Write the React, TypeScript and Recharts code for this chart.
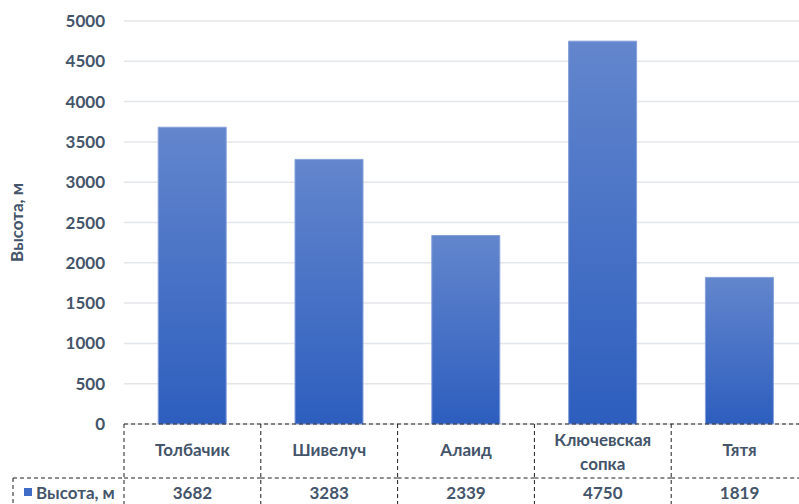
import React from 'react';
import { BarChart, Bar, XAxis, YAxis, CartesianGrid } from 'recharts';

const categories = ['Толбачик', 'Шивелуч', 'Алаид', 'Ключевская сопка', 'Тятя'];
const heights = [3682, 3283, 2339, 4750, 1819];
const yTicks = [0, 500, 1000, 1500, 2000, 2500, 3000, 3500, 4000, 4500, 5000];
const seriesName = 'Высота, м';
const axisTitle = 'Высота, м';

const data = categories.map((name, i) => ({ name, value: heights[i] }));

const CHART_W = 808;
const CHART_H = 504;
const Y_AXIS_W = 124;
const BAND = (CHART_W - Y_AXIS_W) / categories.length;
const TEXT = '#44546A';
const FONT = 'Lato, "Open Sans", sans-serif';
const FS = 17;
const DASH = '4 3';
const LINE = '#1f1f1f';

const splitLabel = (s: string): string[] => (s.length > 12 ? s.split(' ') : [s]);

const TableTick = (props: any) => {
  const { x, y, payload } = props;
  const idx = payload.index;
  const top = y;
  const left = x - BAND / 2;
  const right = x + BAND / 2;
  const rowY = top + 54;
  const bottom = top + 100;
  const lines = splitLabel(String(payload.value));
  const textProps = {
    fill: TEXT,
    fontSize: FS,
    fontWeight: 700,
    fontFamily: FONT,
    textAnchor: 'middle' as const,
    dominantBaseline: 'central' as const,
  };
  return (
    <g>
      <line x1={left} y1={top} x2={left} y2={bottom} stroke={LINE} strokeDasharray={DASH} />
      {idx === categories.length - 1 && (
        <line x1={right} y1={top} x2={right} y2={bottom} stroke={LINE} strokeDasharray={DASH} />
      )}
      <line x1={left} y1={rowY} x2={right} y2={rowY} stroke={LINE} strokeDasharray={DASH} />
      {lines.length === 1 ? (
        <text x={x} y={top + 25} {...textProps}>{lines[0]}</text>
      ) : (
        lines.map((l, i) => (
          <text key={i} x={x} y={top + 15 + i * 24} {...textProps}>{l}</text>
        ))
      )}
      <text x={x} y={top + 68} {...textProps}>{heights[idx]}</text>
      {idx === 0 && (
        <g>
          <line x1={13} y1={rowY} x2={left} y2={rowY} stroke={LINE} strokeDasharray={DASH} />
          <line x1={13} y1={rowY} x2={13} y2={bottom} stroke={LINE} strokeDasharray={DASH} />
          <rect x={24} y={top + 64} width={8} height={8} fill="#3F6CC6" />
          <text
            x={36}
            y={top + 68}
            fill={TEXT}
            fontSize={FS}
            fontWeight={700}
            fontFamily={FONT}
            dominantBaseline="central"
          >
            {seriesName}
          </text>
        </g>
      )}
    </g>
  );
};

const AxisTitle = (props: any) => {
  const vb = props.viewBox || { x: 0, y: 0, width: 0, height: 0 };
  const cx = vb.x + 16;
  const cy = vb.y + vb.height / 2;
  return (
    <text
      x={cx}
      y={cy}
      transform={`rotate(-90, ${cx}, ${cy})`}
      fill={TEXT}
      fontSize={FS}
      fontWeight={700}
      fontFamily={FONT}
      textAnchor="middle"
      dominantBaseline="central"
    >
      {axisTitle}
    </text>
  );
};

export default function App() {
  return (
    <div
      style={{
        position: 'absolute',
        left: 0,
        top: 0,
        width: 799,
        height: 504,
        overflow: 'hidden',
        background: '#fff',
      }}
    >
      <BarChart
        width={CHART_W}
        height={CHART_H}
        data={data}
        margin={{ top: 21, right: 0, bottom: 0, left: 0 }}
        barCategoryGap="25%"
      >
        <defs>
          <linearGradient id="barGrad" x1="0" y1="0" x2="0" y2="1">
            <stop offset="0%" stopColor="#6386CD" />
            <stop offset="100%" stopColor="#2D5EBE" />
          </linearGradient>
        </defs>
        <CartesianGrid vertical={false} stroke="#E3E6EA" strokeWidth={1.5} />
        <YAxis
          width={Y_AXIS_W}
          domain={[0, 5000]}
          ticks={yTicks}
          interval={0}
          axisLine={false}
          tickLine={false}
          tickSize={0}
          tickMargin={19}
          tick={{ fill: TEXT, fontSize: FS, fontWeight: 700, fontFamily: FONT }}
          label={{ content: AxisTitle }}
        />
        <XAxis
          dataKey="name"
          height={80}
          interval={0}
          tickLine={false}
          tickSize={0}
          tickMargin={0}
          axisLine={{ stroke: LINE, strokeDasharray: DASH }}
          tick={TableTick}
        />
        <Bar
          dataKey="value"
          fill="url(#barGrad)"
          stroke="#86A0DA"
          strokeWidth={1}
          isAnimationActive={false}
        />
      </BarChart>
    </div>
  );
}
